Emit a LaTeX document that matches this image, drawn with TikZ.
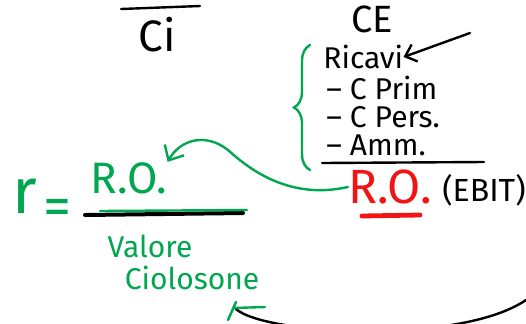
\documentclass[tikz,border=0pt]{standalone}
\usepackage{fontspec}
\setmainfont{Fira Sans}
\usetikzlibrary{positioning,arrows.meta,decorations.pathreplacing}
\definecolor{handgreen}{RGB}{0,166,80}
\definecolor{handred}{RGB}{240,20,20}

\begin{document}
\begin{tikzpicture}[x=0.5pt,y=-0.5pt,
  every node/.style = {inner sep=0pt, align=center},
  pen/.style = {line width=1.2pt, line cap=round},
  big/.style = {font=\fontsize{15}{17}\selectfont}]
  \useasboundingbox (0,0) rectangle (526,323);
  \fill[white] (0,0) rectangle (526,323);
  % conto economico
  \node[font=\fontsize{22}{24}\selectfont] (ci) at (157,35) {Ci};
  \draw[pen] (121,9) -- (200,6);
  \node[font=\fontsize{19}{21}\selectfont] (ce) at (372,19) {CE};
  \node[big, anchor=west] (ricavi) at (323,57) {Ricavi};
  \node[big, anchor=west] (cprim) at (326,88) {-- C Prim};
  \node[big, anchor=west] (cpers) at (326,117) {-- C Pers.};
  \node[big, anchor=west] (amm) at (326,145) {-- Amm.};
  \draw[pen] (322,163) -- (484,162);
  \coordinate (freccia) at (470,33);
  \draw[pen, -{Straight Barb[length=5pt,width=9pt]}] (freccia) -- (ricavi.east);
  \draw[pen, handgreen, decorate, decoration={brace, amplitude=8pt}]
    (310,170) -- (310,45);
  \node[font=\fontsize{24}{26}\selectfont, text=handred] (ro) at (390,187) {R.O.};
  \draw[handred, line width=2.4pt, line cap=round] (362,216) -- (420,215);
  \node[font=\fontsize{16}{18}\selectfont] (ebit) at (484,190) {(EBIT)};
  % rendimento
  \node[font=\fontsize{32}{34}\selectfont, text=handgreen] (r) at (25,196) {r};
  \node[font=\fontsize{28}{30}\selectfont, text=handgreen] (uguale) at (57,212) {=};
  \node[font=\fontsize{22}{24}\selectfont, text=handgreen] (roverde) at (129,178) {R.O.};
  \draw[line width=2pt, line cap=round] (85,215) -- (243,213);
  \draw[pen, handgreen] (100,211) -- (247,210);
  \node[big, text=handgreen] (valore) at (150,246) {Valore};
  \node[big, text=handgreen] (ciolosone) at (192,278) {Ciolosone};
  \draw[pen, handgreen, -{Straight Barb[length=6pt,width=11pt]}]
    (ro.west) .. controls (290,200) and (250,170) .. (228,150)
    .. controls (205,132) and (180,140) .. (roverde.north east);
  % curva in basso
  \coordinate (basso) at (236,309);
  \begin{scope}
    \clip (0,0) rectangle (526,323);
    \draw[pen] (basso) .. controls (265,335) and (460,345) .. (526,300);
  \end{scope}
  \draw[pen, handgreen] (236,302) -- (228,320);
  \draw[pen, handgreen] (233,308) -- (265,307);
\end{tikzpicture}
\end{document}
